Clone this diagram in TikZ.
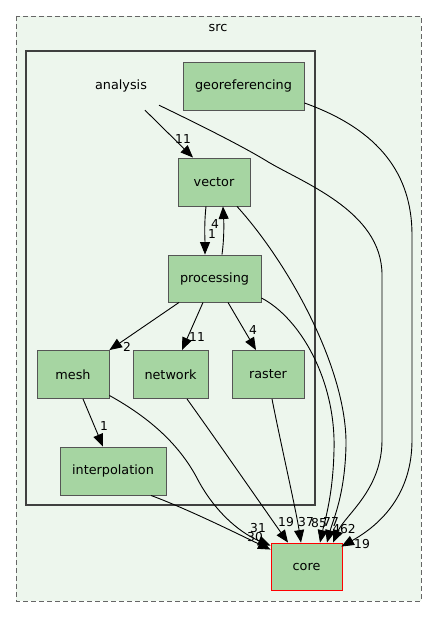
\documentclass[tikz,border=0pt]{standalone}
\usepackage{fontspec}
\setmainfont{DejaVu Sans}
\usetikzlibrary{arrows.meta}
\definecolor{nodegreen}{RGB}{166,213,162}
\definecolor{bggreen}{RGB}{237,246,237}
\definecolor{nodeborder}{RGB}{85,85,85}
\definecolor{boxborder}{RGB}{64,64,64}
\tikzset{
  dirbox/.style={draw=nodeborder, line width=0.9pt, fill=nodegreen, inner sep=0pt,
    font=\fontsize{12.8}{15}\selectfont, text=black},
  dep/.style={draw=black, line width=0.9pt, -{Triangle[length=12.5pt,width=10pt]}},
  lbl/.style={inner sep=0pt, font=\fontsize{12.3}{14}\selectfont, text=black},
}
\begin{document}
\begin{tikzpicture}[x=1pt,y=-1pt]
\useasboundingbox (0,0) rectangle (437,617);
\fill[white] (0,0) rectangle (437,617);
% outer src cluster
\draw[fill=bggreen, draw=boxborder!80, line width=0.9pt, dash pattern=on 5pt off 3pt] (16,16) rectangle (421,601);
\node[lbl, font=\fontsize{12.8}{15}\selectfont] (srclbl) at (218,28) {src};
% inner analysis cluster
\draw[fill=bggreen, draw=boxborder, line width=2pt] (26,51) rectangle (315,505);
\node[inner sep=0pt, minimum width=80pt, minimum height=48pt, font=\fontsize{12.8}{15}\selectfont] (analysis) at (121,86) {analysis};

\node[dirbox, minimum width=121pt, minimum height=48pt] (georef) at (243.5,86) {georeferencing};
\node[dirbox, minimum width=72pt, minimum height=48pt] (vector) at (214,182) {vector};
\node[dirbox, minimum width=93pt, minimum height=47pt] (processing) at (214.5,278.5) {processing};
\node[dirbox, minimum width=72pt, minimum height=48pt] (mesh) at (73,374.5) {mesh};
\node[dirbox, minimum width=75pt, minimum height=48pt] (network) at (170.5,374.5) {network};
\node[dirbox, minimum width=72pt, minimum height=48pt] (raster) at (268,374.5) {raster};
\node[dirbox, minimum width=106pt, minimum height=48pt] (interp) at (113,471) {interpolation};
\node[dirbox, draw=red, minimum width=71pt, minimum height=47pt] (core) at (306.5,566.5) {core};

% edges
\draw[dep] ([xshift=24pt]analysis.south) -- ([xshift=-21pt]vector.north);
\node[lbl] (l11a) at (183,139) {11};

\draw[dep] ([xshift=38pt,yshift=5pt]analysis.south) .. controls (200,125) and (240,145) .. (265,160)
  .. controls (300,182) and (382,210) .. (382,275) -- (382,440)
  .. controls (382,490) and (345,515) .. ([xshift=26.5pt]core.north);

\draw[dep] ([yshift=-17pt]georef.east) .. controls (380,130) and (412,175) .. (412,235) -- (412,440)
  .. controls (412,495) and (380,525) .. ([xshift=-1pt,yshift=-4pt]core.north east);
\node[lbl] (l19c) at (362,544) {19};

\draw[dep] ([xshift=-8pt]vector.south) .. controls (204,225) and (205,240) .. ([xshift=-9.5pt]processing.north);
\draw[dep] ([xshift=7.5pt]processing.north) .. controls (224,240) and (224,225) .. ([xshift=9pt]vector.south);
\node[lbl] (l4v) at (215,224) {4};
\node[lbl] (l1v) at (212,234) {1};

\draw[dep] ([xshift=23pt]vector.south) .. controls (290,265) and (347,370) .. (346,445)
  .. controls (345,495) and (333,520) .. ([xshift=20.5pt]core.north);
\draw[dep] ([yshift=-19.5pt]processing.east) .. controls (300,318) and (336,380) .. (334,450)
  .. controls (333,495) and (325,520) .. ([xshift=13.5pt]core.north);
\node[lbl] (l85) at (319,523) {85};
\node[lbl] (l77) at (331,522) {77};
\node[lbl] (l462) at (344,529) {462};

\draw[dep] ([xshift=-35.5pt]processing.south) -- (mesh.north east);
\node[lbl] (l2) at (127,347) {2};
\draw[dep] ([xshift=-11.5pt]processing.south) -- ([xshift=11.5pt]network.north);
\node[lbl] (l11b) at (197,337) {11};
\draw[dep] ([xshift=13.5pt]processing.south) -- ([xshift=-12pt]raster.north);
\node[lbl] (l4r) at (253,330) {4};

\draw[dep] ([xshift=10pt]mesh.south) -- ([xshift=-10pt]interp.north);
\node[lbl] (l1m) at (104,426) {1};

\draw[dep] ([yshift=-21pt]mesh.east) .. controls (150,418) and (180,445) .. (198,480)
  .. controls (214,510) and (238,532) .. ([yshift=-3pt]core.north west);
\node[lbl] (l31) at (258,528) {31};

\draw[dep] ([xshift=38pt]interp.south) .. controls (190,510) and (240,535) .. ([yshift=-7pt]core.north west);
\node[lbl] (l30) at (255,537) {30};

\draw[dep] ([xshift=16.5pt]network.south) .. controls (220,445) and (265,510) .. ([xshift=-18.5pt]core.north);
\node[lbl] (l19n) at (286,522) {19};

\draw[dep] ([xshift=4pt]raster.south) .. controls (280,440) and (296,510) .. ([xshift=-5.5pt]core.north);
\node[lbl] (l37) at (306,522) {37};
\end{tikzpicture}
\end{document}
